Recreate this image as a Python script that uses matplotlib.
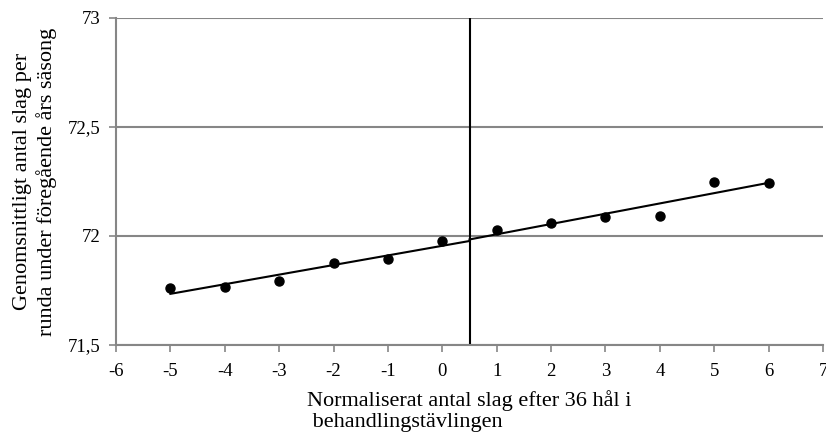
import matplotlib.pyplot as plt
import numpy as np

# data
x_vals = [-5, -4, -3, -2, -1, 0, 1, 2, 3, 4, 5, 6]
y_vals = [71.762, 71.768, 71.792, 71.874, 71.895, 71.978,
          72.026, 72.058, 72.089, 72.092, 72.248, 72.242]
cutoff = 0.5
x_ticks = list(range(-6, 8))
y_ticks = [71.5, 72, 72.5, 73]

plt.rcParams['font.family'] = ['Liberation Serif', 'DejaVu Serif']
plt.rcParams['axes.unicode_minus'] = False

fig = plt.figure(figsize=(8.26, 4.34), dpi=100)
ax = fig.add_axes([116/826, 1-345/434, (823-116)/826, (345-18)/434])

grey = '#868686'
for yv in y_ticks:
    ax.axhline(yv, color=grey, lw=1.5, zorder=0)

x = np.array(x_vals)
y = np.array(y_vals)
ax.plot(x, y, 'o', color='black', ms=6.5, zorder=3)

# linear fits on each side of the cutoff
left = x < cutoff
right = x > cutoff
pl = np.polyfit(x[left], y[left], 1)
pr = np.polyfit(x[right], y[right], 1)
xl = np.array([x[left].min(), cutoff])
xr = np.array([cutoff, x[right].max()])
ax.plot(xl, np.polyval(pl, xl), color='black', lw=1.5)
ax.plot(xr, np.polyval(pr, xr), color='black', lw=1.5)

ax.axvline(cutoff, color='black', lw=1.5)

ax.set_xlim(-6, 7)
ax.set_ylim(71.5, 73)
ax.set_xticks(x_ticks)
ax.set_xticklabels([str(v) for v in x_ticks])
ax.set_yticks(y_ticks)
ax.set_yticklabels([str(v).replace('.', ',') if v != int(v) else str(int(v)) for v in y_ticks])

ax.spines['top'].set_visible(False)
ax.spines['right'].set_visible(False)
ax.spines['left'].set_color(grey)
ax.spines['bottom'].set_color(grey)
ax.spines['left'].set_linewidth(1.5)
ax.spines['bottom'].set_linewidth(1.5)
ax.tick_params(axis='both', colors=grey, length=5, width=1.2, labelcolor='black', labelsize=13.5)
ax.tick_params(axis='x', pad=8)
ax.tick_params(axis='y', pad=6)

ax.set_xlabel('Normaliserat antal slag efter 36 hål i\n behandlingstävlingen',
              fontsize=16, multialignment='left', labelpad=7, linespacing=1.2)
ax.set_ylabel('Genomsnittligt antal slag per\nrunda under föregående års säsong',
              fontsize=16, labelpad=8, linespacing=1.25)

fig.savefig('out.png', dpi=100)
